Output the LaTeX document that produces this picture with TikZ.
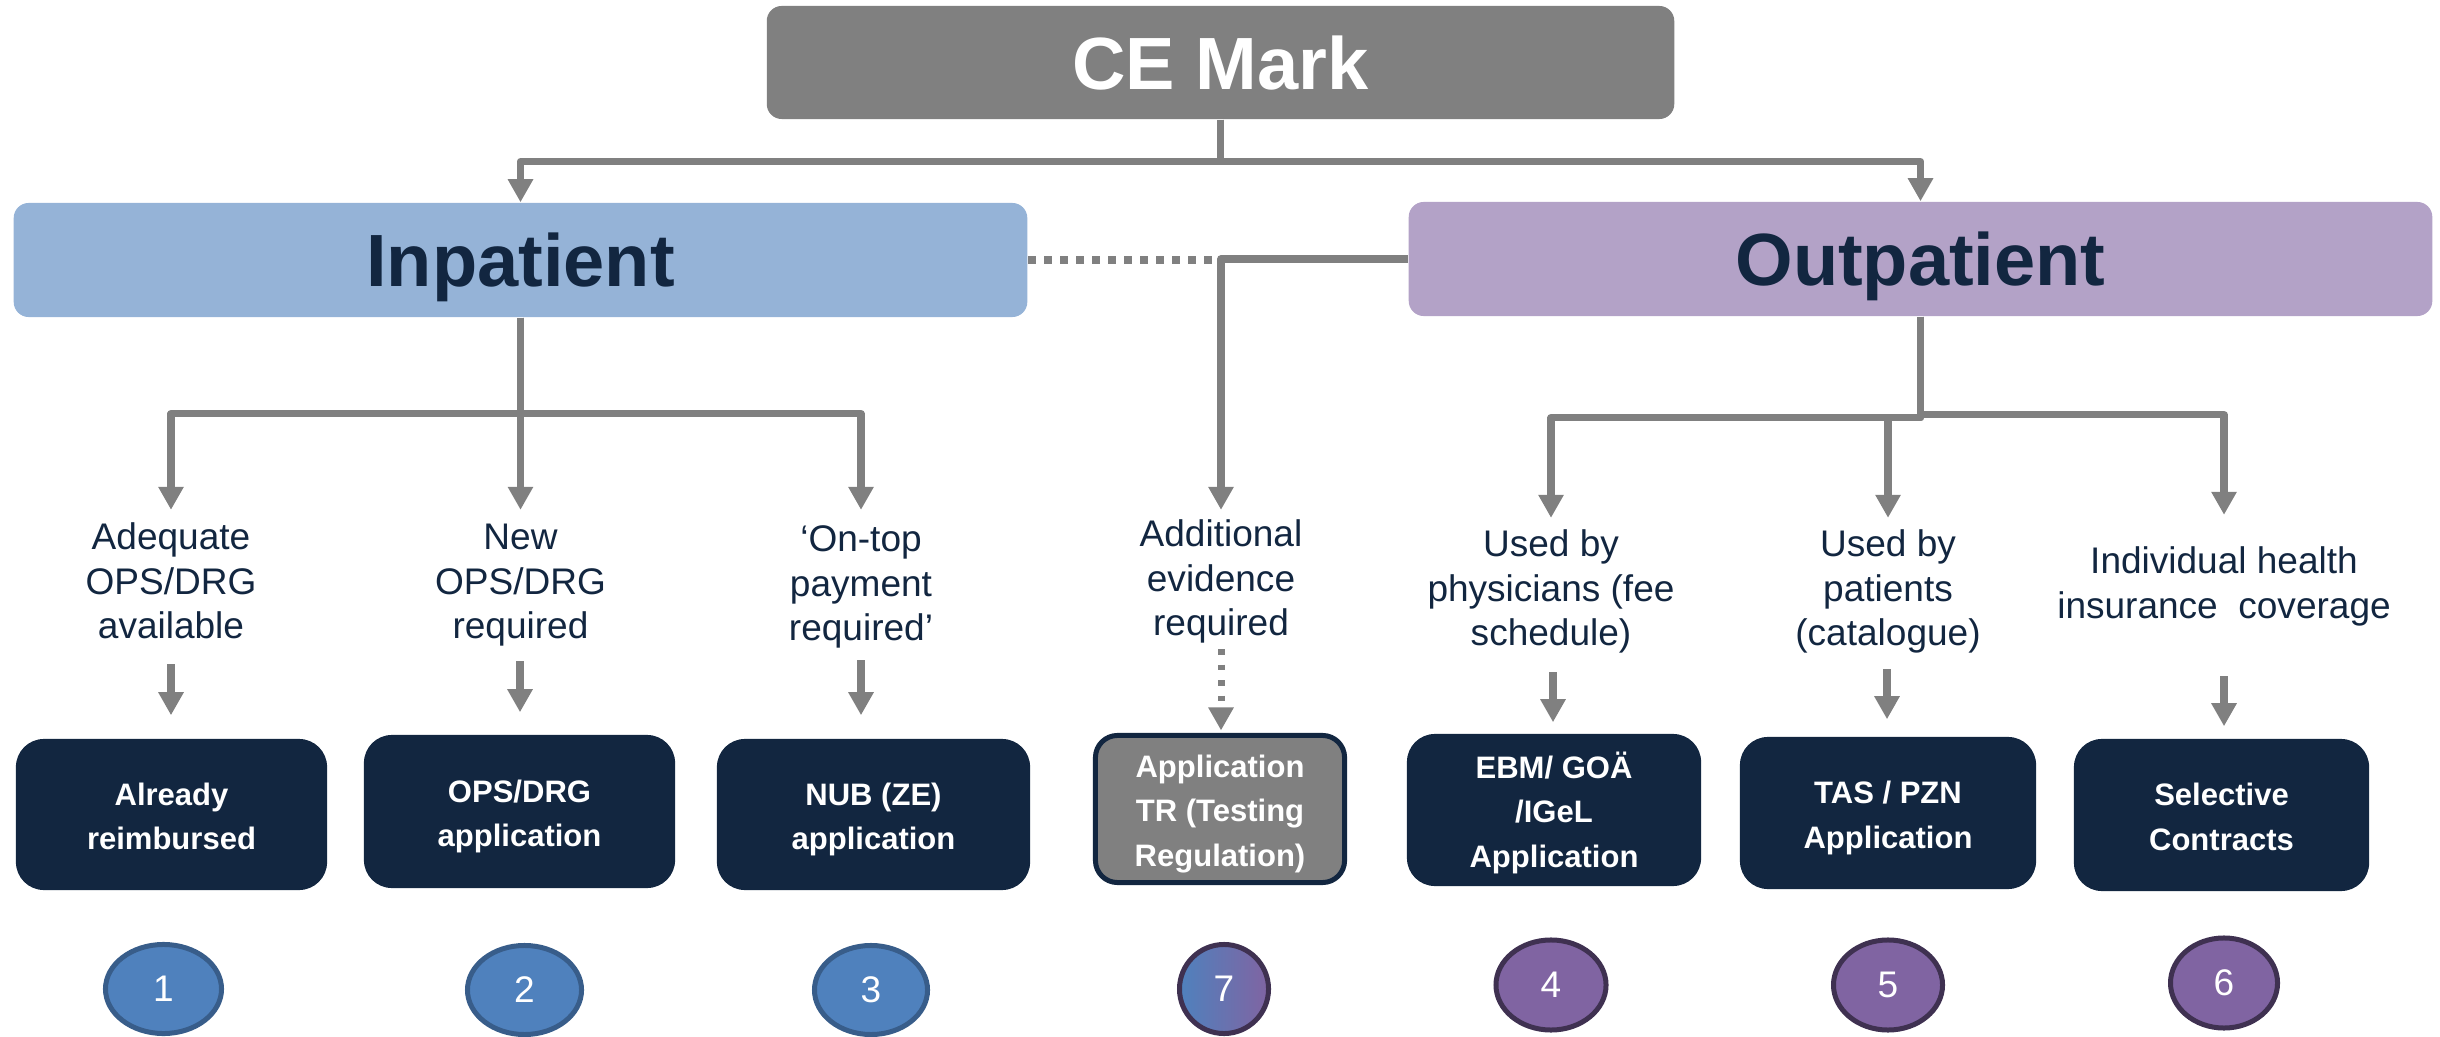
\documentclass[tikz,border=0pt]{standalone}
\usepackage{fontspec}
\setmainfont{Liberation Sans}
\usetikzlibrary{arrows.meta,shapes.geometric}
\definecolor{navy}{RGB}{18,38,64}
\definecolor{lgray}{RGB}{128,128,128}
\definecolor{inpfill}{RGB}{149,179,215}
\definecolor{outfill}{RGB}{179,162,199}
\definecolor{cblue}{RGB}{79,129,189}
\definecolor{cblueb}{RGB}{56,93,138}
\definecolor{cpurp}{RGB}{128,100,162}
\definecolor{cpurpb}{RGB}{63,49,81}
\newcommand\labfont{\fontsize{10.53pt}{12.66pt}\selectfont}
\newcommand\boxfont{\fontsize{8.82pt}{12.66pt}\selectfont\bfseries}
\newcommand\ttlfont{\fontsize{21.05pt}{25pt}\selectfont\bfseries}
\newcommand\numfont{\fontsize{10.53pt}{12.66pt}\selectfont}
\newcommand\bst{\rule{0pt}{11.15pt}}
\tikzset{
  conn/.style={draw=lgray, line width=0.075cm, line join=round},
  arrtip/.style={-{Triangle[width=0.24cm,length=0.23cm]}},
  labtxt/.style={font=\labfont, text=navy, align=center, inner sep=0pt, anchor=north},
  dbox/.style={fill=navy, text=white, font=\boxfont, align=center, inner sep=0pt, rounded corners=0.28cm},
  ttlbox/.style={font=\ttlfont, inner sep=0pt, rounded corners=0.15cm, text height=0.53cm, text depth=0pt},
  numc/.style={ellipse, inner sep=0pt, text=white, font=\numfont, line width=0.05cm}
}
\begin{document}
\begin{tikzpicture}[x=0.01cm,y=-0.01cm]
\useasboundingbox (0,0) rectangle (2440,1037);

% top boxes
\node[ttlbox, fill=lgray, text=white, minimum width=9.07cm, minimum height=1.13cm] (ce) at (1220.5,62.5) {CE Mark};
\node[ttlbox, fill=inpfill, text=navy, minimum width=10.13cm, minimum height=1.14cm] (inp) at (520.5,260) {Inpatient};
\node[ttlbox, fill=outfill, text=navy, minimum width=10.23cm, minimum height=1.14cm] (outp) at (1920.5,259) {Outpatient};

% labels
\node[labtxt] (lab1) at (171,517.85) {\strut Adequate\\OPS/DRG\\available};
\node[labtxt] (lab2) at (520.5,517.85) {\strut New\\OPS/DRG\\required};
\node[labtxt] (lab3) at (861,519.85) {\strut ‘On-top\\payment\\required’};
\node[labtxt] (lab7) at (1221,514.85) {\strut Additional\\evidence\\required};
\node[labtxt] (lab4) at (1551,524.85) {\strut Used by\\physicians (fee\\schedule)};
\node[labtxt] (lab5) at (1888,524.85) {\strut Used by\\patients\\(catalogue)};
\node[labtxt] (lab6) at (2224,541.85) {\strut Individual health\\insurance\ \ coverage};

% dark boxes
\node[dbox, minimum width=3.11cm, minimum height=1.51cm] (box1) at (171.5,814.5) {\bst Already\\reimbursed\strut};
\node[dbox, minimum width=3.11cm, minimum height=1.53cm] (box2) at (519.5,811.5) {\bst OPS/DRG\\application\strut};
\node[dbox, minimum width=3.13cm, minimum height=1.51cm] (box3) at (873.5,814.5) {\bst NUB (ZE)\\application\strut};
\node[dbox, fill=lgray, draw=navy, line width=0.05cm, rounded corners=0.22cm, minimum width=2.49cm, minimum height=1.47cm] (box7) at (1220,809) {\bst Application\\TR (Testing\\Regulation)\strut};
\node[dbox, minimum width=2.94cm, minimum height=1.52cm] (box4) at (1554,810) {\bst EBM/ GOÄ\\/IGeL\\Application\strut};
\node[dbox, minimum width=2.96cm, minimum height=1.52cm] (box5) at (1888,813) {\bst TAS / PZN\\Application\strut};
\node[dbox, minimum width=2.95cm, minimum height=1.52cm] (box6) at (2221.5,815) {\bst Selective\\Contracts\strut};

% circles
\node[numc, fill=cblue, draw=cblueb, minimum width=1.16cm, minimum height=0.89cm] (c1) at (163.5,989) {1};
\node[numc, fill=cblue, draw=cblueb, minimum width=1.14cm, minimum height=0.89cm] (c2) at (524.5,990) {2};
\node[numc, fill=cblue, draw=cblueb, minimum width=1.13cm, minimum height=0.89cm] (c3) at (871,990) {3};
\node[numc, left color=cblue, right color=cpurp, draw=cpurpb, minimum width=0.89cm, minimum height=0.89cm] (c7) at (1224,989) {7};
\node[numc, fill=cpurp, draw=cpurpb, minimum width=1.10cm, minimum height=0.90cm] (c4) at (1551,985) {4};
\node[numc, fill=cpurp, draw=cpurpb, minimum width=1.09cm, minimum height=0.90cm] (c5) at (1888,985) {5};
\node[numc, fill=cpurp, draw=cpurpb, minimum width=1.07cm, minimum height=0.90cm] (c6) at (2224,983) {6};

% top connectors
\draw[conn, arrtip] (ce.south) -- ++(0,42) -| (inp.north);
\draw[conn, arrtip] (ce.south) -- ++(0,42) -| (outp.north);

% inpatient tree
\draw[conn, arrtip, shorten >=0.08cm] (inp.south) -- ++(0,96) -| (lab1.north);
\draw[conn, arrtip, shorten >=0.08cm] (inp.south) -- (lab2.north);
\draw[conn, arrtip, shorten >=0.10cm] (inp.south) -- ++(0,96) -| (lab3.north);

% outpatient tree
\draw[conn, arrtip, shorten >=0.07cm] (outp.south) -- ++(0,101) -| (lab4.north);
\draw[conn, arrtip, shorten >=0.07cm] (outp.south) -- ++(0,101) -| (lab5.north);
\draw[conn, arrtip, shorten >=0.27cm] (outp.south) -- ++(0,98) -| (lab6.north);

% additional evidence
\draw[conn, arrtip, shorten >=0.05cm] (outp.west) -| (lab7.north);
\draw[conn, line cap=butt, line width=0.08cm, dash pattern=on 0.08cm off 0.08cm] (inp.east) -- ([xshift=-0.07cm]inp.east -| lab7.north);

% short arrows
\coordinate (s1) at (171,664);
\coordinate (s2) at (520,661);
\coordinate (s3) at (861,660);
\coordinate (s7) at (1221,649);
\coordinate (s4) at (1553,672);
\coordinate (s5) at (1887,669);
\coordinate (s6) at (2224,676);
\draw[conn, arrtip, shorten >=0.23cm] (s1) -- (s1 |- box1.north);
\draw[conn, arrtip, shorten >=0.22cm] (s2) -- (s2 |- box2.north);
\draw[conn, arrtip, shorten >=0.23cm] (s3) -- (s3 |- box3.north);
\draw[conn, arrtip, line width=0.07cm, dash pattern=on 0.055cm off 0.1cm, shorten >=0.025cm] (s7) -- (s7 |- box7.north);
\draw[conn, arrtip, shorten >=0.11cm] (s4) -- (s4 |- box4.north);
\draw[conn, arrtip, shorten >=0.17cm] (s5) -- (s5 |- box5.north);
\draw[conn, arrtip, shorten >=0.12cm] (s6) -- (s6 |- box6.north);
\end{tikzpicture}
\end{document}
